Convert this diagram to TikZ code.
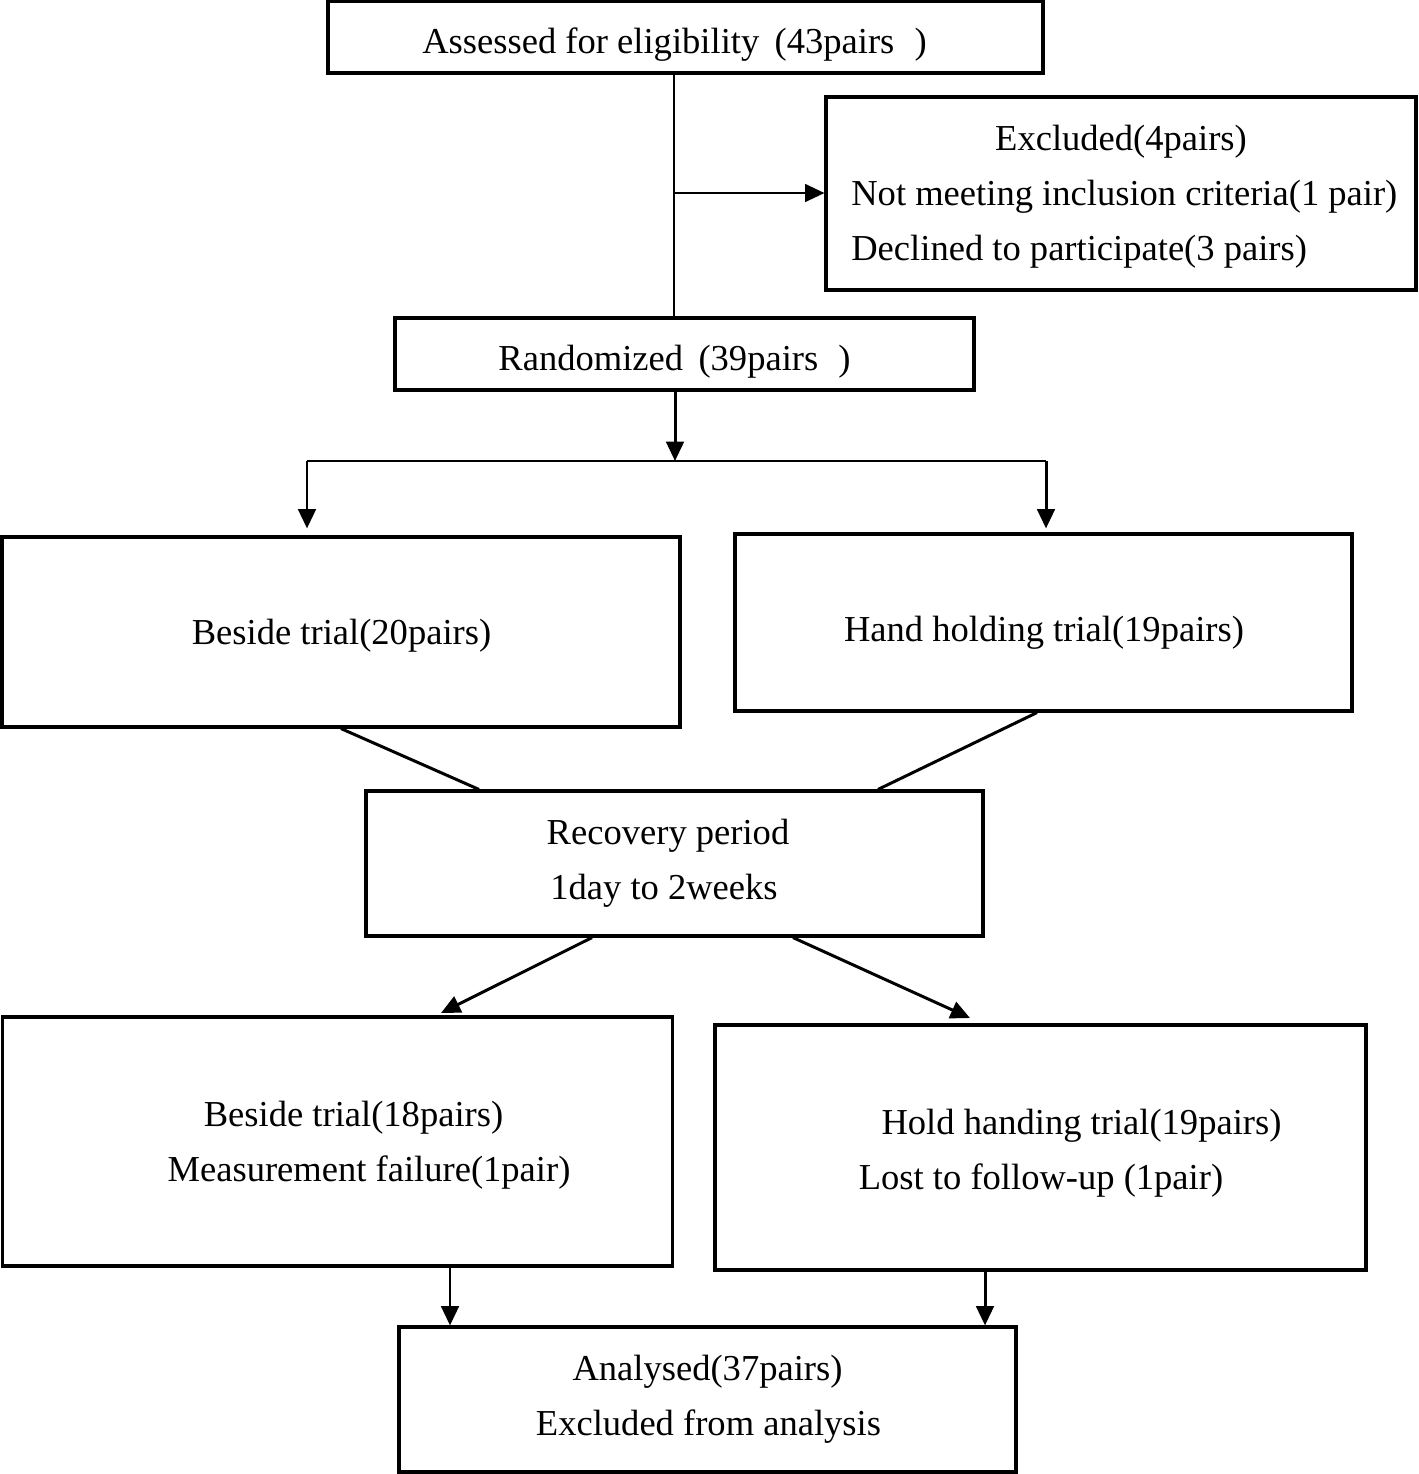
\documentclass[tikz,border=0pt]{standalone}
\usepackage{fontspec}
\setmainfont{Liberation Serif}
\usetikzlibrary{arrows.meta}
\begin{document}
\begin{tikzpicture}[x=0.02cm,y=-0.02cm,
  box/.style={draw,line width=1.8pt,inner sep=0pt},
  txt/.style={inner sep=0pt,anchor=base,font=\fontsize{20.8pt}{24pt}\selectfont},
  txtl/.style={txt,anchor=base west},
  conn/.style={line width=1.7pt},
  arr/.style={line width=1.7pt,-{Triangle[length=11pt,width=10pt]}}]
\useasboundingbox (0,0) rectangle (1418,1474);
% boxes
\node[box,minimum width=14.30cm,minimum height=1.44cm] (top) at (685.5,37) {};
\node[box,minimum width=11.80cm,minimum height=3.86cm] (excl) at (1121,193.5) {};
\node[box,minimum width=11.58cm,minimum height=1.44cm] (rand) at (684.5,354) {};
\node[box,minimum width=13.56cm,minimum height=3.80cm] (bes1) at (341,632) {};
\node[box,minimum width=12.34cm,minimum height=3.54cm] (hand) at (1043.5,622.5) {};
\node[box,minimum width=12.34cm,minimum height=2.90cm] (rec) at (674.5,863.5) {};
\node[box,minimum width=13.40cm,minimum height=4.98cm] (bes2) at (337.5,1141.5) {};
\node[box,minimum width=13.02cm,minimum height=4.90cm] (hold) at (1040.5,1147.5) {};
\node[box,minimum width=12.34cm,minimum height=2.90cm] (ana) at (707.5,1399.5) {};
% texts
\node[txt] (t1) at (674.5,53) {Assessed for eligibility\hspace{0.42em}(43pairs\hspace{0.55em})};
\node[txt] (t2) at (1121,150) {Excluded(4pairs)};
\node[txtl] (t3) at (851,205) {Not meeting inclusion criteria(1 pair)};
\node[txtl] (t4) at (851,260) {Declined to participate(3 pairs)};
\node[txt] (t5) at (674.5,370) {Randomized\hspace{0.42em}(39pairs\hspace{0.55em})};
\node[txt] (t6) at (341.5,644) {Beside trial(20pairs)};
\node[txt] (t7) at (1044,641) {Hand holding trial(19pairs)};
\node[txt] (t8) at (668,844) {Recovery period};
\node[txt] (t9) at (664,899) {1day to 2weeks};
\node[txt] (t10) at (353.5,1126) {Beside trial(18pairs)};
\node[txt] (t11) at (369,1181) {Measurement failure(1pair)};
\node[txt] (t12) at (1081.5,1134) {Hold handing trial(19pairs)};
\node[txt] (t13) at (1041,1189) {Lost to follow-up (1pair)};
\node[txt] (t14) at (707.5,1380) {Analysed(37pairs)};
\node[txt] (t15) at (708.5,1435) {Excluded from analysis};
% connectors
\coordinate (j1) at (674,193);
\draw[line width=0.85pt] (top.south -| j1) -- (rand.north -| j1);
\draw[line width=1.5pt,-{Triangle[length=11pt,width=10pt]}] (j1) -- (excl.west |- j1);
\coordinate (split) at (675,461);
\coordinate (sl) at (307,461);
\coordinate (sr) at (1046,461);
\draw[arr] (rand.south -| split) -- (split);
\draw[line width=1pt] (sl) -- (sr);
\draw[arr,shorten >=0.14cm] (sl) -- (sl |- bes1.north);
\draw[arr,shorten >=0.08cm] (sr) -- (sr |- hand.north);
\coordinate (r1) at (479,791);
\coordinate (r2) at (878,791);
\coordinate (h1) at (1037,711);
\draw[conn] (bes1.south) -- (rec.north -| r1);
\draw[conn] (hand.south -| h1) -- (rec.north -| r2);
\coordinate (d1) at (592,936);
\coordinate (d2) at (793,936);
\coordinate (e1) at (441,1013);
\coordinate (e2) at (970,1018);
\draw[arr] (rec.south -| d1) -- (e1);
\draw[arr] (rec.south -| d2) -- (e2);
\coordinate (f1) at (450,1300);
\coordinate (f2) at (985,1300);
\draw[arr] (bes2.south -| f1) -- (ana.north -| f1);
\draw[arr] (hold.south -| f2) -- (ana.north -| f2);
\end{tikzpicture}
\end{document}
